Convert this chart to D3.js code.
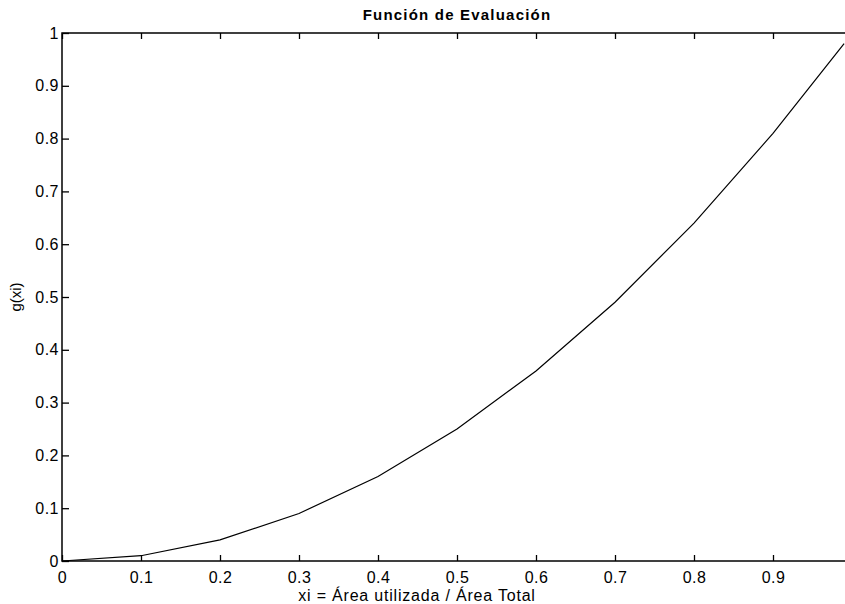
<!DOCTYPE html>
<html>
<head>
<meta charset="utf-8">
<script src="https://cdn.jsdelivr.net/npm/d3@7"></script>
<style>
  body { margin: 0; background: #fff; }
  svg { display: block; overflow: hidden; }
  text { font-family: "Liberation Sans", Arial, sans-serif; fill: #000; }
</style>
</head>
<body>
<script>
// data
var xi = [0, 0.1, 0.2, 0.3, 0.4, 0.5, 0.6, 0.7, 0.8, 0.9, 0.99];
var gxi = [0, 0.01, 0.04, 0.09, 0.16, 0.25, 0.36, 0.49, 0.64, 0.81, 0.98];
var xTicks = [0, 0.1, 0.2, 0.3, 0.4, 0.5, 0.6, 0.7, 0.8, 0.9];
var yTicks = [0, 0.1, 0.2, 0.3, 0.4, 0.5, 0.6, 0.7, 0.8, 0.9, 1];

window.onload = function(){
    var w = 845, h = 604;
    var pLeft = 62, pRight = 852, pTop = 33, pBottom = 561;   // plot box (right edge sits just off the page)

    var svg = d3.select("body").append("svg")
        .attr("width", w)
        .attr("height", h);

    var x = d3.scaleLinear().domain([0, 1]).range([pLeft, pRight]);
    var y = d3.scaleLinear().domain([0, 1]).range([pBottom, pTop]);

    var fmt = function(d){ return d === 0 ? "0" : d === 1 ? "1" : d3.format(".1f")(d); };

    // frame
    svg.append("rect")
        .attr("x", pLeft).attr("y", pTop)
        .attr("width", pRight - pLeft).attr("height", pBottom - pTop)
        .attr("fill", "none").attr("stroke", "#000").attr("stroke-width", 1.5);

    // bottom axis, ticks pointing in
    svg.append("g")
        .attr("transform", "translate(0," + pBottom + ")")
        .call(d3.axisBottom(x).tickValues(xTicks).tickFormat(fmt).tickSizeInner(-6).tickSizeOuter(0).tickPadding(11));
    // top ticks
    svg.append("g")
        .attr("transform", "translate(0," + pTop + ")")
        .call(d3.axisTop(x).tickValues(xTicks).tickFormat("").tickSizeInner(-6).tickSizeOuter(0));
    // left axis
    svg.append("g")
        .attr("transform", "translate(" + pLeft + ",0)")
        .call(d3.axisLeft(y).tickValues(yTicks).tickFormat(fmt).tickSizeInner(-7).tickSizeOuter(0).tickPadding(3));
    // right ticks
    svg.append("g")
        .attr("transform", "translate(" + pRight + ",0)")
        .call(d3.axisRight(y).tickValues(yTicks).tickFormat("").tickSizeInner(-7).tickSizeOuter(0));

    svg.selectAll(".domain").remove();
    svg.selectAll(".tick line").attr("stroke", "#000").attr("stroke-width", 1.3);
    svg.selectAll(".tick text").style("font-size", "16px").style("letter-spacing", "0.5px").attr("fill", "#000");

    // curve
    var line = d3.line()
        .x(function(d, i){ return x(xi[i]); })
        .y(function(d){ return y(d); });

    svg.append("path")
        .datum(gxi)
        .attr("d", line)
        .attr("fill", "none")
        .attr("stroke", "#000")
        .attr("stroke-width", 1.2);

    // title
    svg.append("text")
        .attr("x", 457).attr("y", 20)
        .attr("text-anchor", "middle")
        .style("font-size", "15px")
        .style("font-weight", "bold")
        .style("letter-spacing", "1.2px")
        .text("Función de Evaluación");

    // axis labels
    svg.append("text")
        .attr("x", 417).attr("y", 601)
        .attr("text-anchor", "middle")
        .style("font-size", "16px")
        .style("letter-spacing", "0.8px")
        .text("xi = Área utilizada / Área Total");

    svg.append("text")
        .attr("transform", "translate(21,297) rotate(-90)")
        .attr("text-anchor", "middle")
        .style("font-size", "15px")
        .text("g(xi)");
};
</script>
</body>
</html>
